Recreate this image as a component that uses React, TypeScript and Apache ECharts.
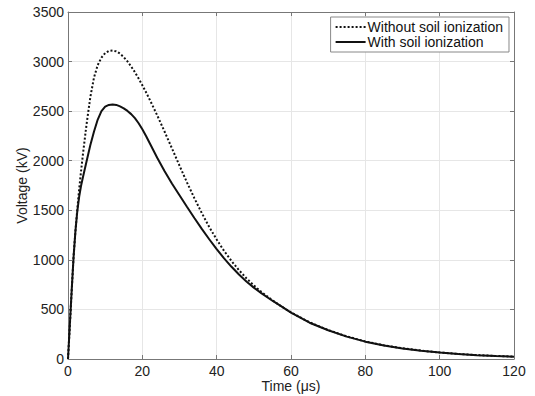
import React, { useEffect, useRef } from "react";
import * as echarts from "echarts";

const times = [0, 0.5, 1, 1.5, 2, 2.5, 3, 3.5, 4, 5, 6, 7, 8, 9, 10, 11, 12, 13, 14, 15, 16, 17, 18, 19, 20, 21, 22, 24, 26, 28, 30, 32, 34, 36, 38, 40, 42, 44, 46, 48, 50, 52, 55, 57, 60, 65, 70, 75, 80, 85, 90, 95, 100, 105, 110, 115, 120];

const withoutIonization = [0, 340, 690, 1030, 1290, 1510, 1710, 1890, 2060, 2370, 2640, 2840, 2965, 3040, 3085, 3108, 3112, 3103, 3080, 3045, 3002, 2950, 2893, 2830, 2762, 2690, 2615, 2458, 2292, 2122, 1950, 1782, 1622, 1472, 1332, 1205, 1090, 988, 896, 815, 742, 677, 592, 541, 470, 370, 292, 228, 177, 138, 108, 84, 66, 51, 40, 31, 24];

const withIonization = [0, 350, 700, 1030, 1290, 1490, 1635, 1745, 1830, 1995, 2155, 2295, 2415, 2500, 2545, 2563, 2568, 2563, 2548, 2528, 2502, 2470, 2430, 2378, 2318, 2250, 2176, 2030, 1893, 1768, 1652, 1535, 1422, 1313, 1208, 1108, 1015, 930, 852, 782, 720, 665, 588, 540, 468, 366, 290, 226, 175, 137, 107, 83, 65, 50, 39, 30, 23];

const xTicks = [0, 20, 40, 60, 80, 100, 120];
const yTicks = [0, 500, 1000, 1500, 2000, 2500, 3000, 3500];

const seriesNames = ["Without soil ionization", "With soil ionization"];

export default function App() {
  const ref = useRef<HTMLDivElement>(null);
  useEffect(() => {
    document.body.style.margin = "0";
    if (!ref.current) return;
    const chart = echarts.init(ref.current, null, { renderer: "svg" });
    const font = "Liberation Sans, Arial, Helvetica, sans-serif";
    const axisColor = "#777";
    const xCommon = {
      type: "value" as const,
      min: xTicks[0],
      max: xTicks[xTicks.length - 1],
      interval: 20,
      splitLine: { show: false },
      axisLine: { show: true, onZero: false, lineStyle: { color: axisColor, width: 1 } },
      axisTick: { show: true, inside: true, length: 4, lineStyle: { color: axisColor } },
    };
    const yCommon = {
      type: "value" as const,
      min: yTicks[0],
      max: yTicks[yTicks.length - 1],
      interval: 500,
      splitLine: { show: false },
      axisLine: { show: true, onZero: false, lineStyle: { color: axisColor, width: 1 } },
      axisTick: { show: true, inside: true, length: 4, lineStyle: { color: axisColor } },
    };
    chart.setOption({
      animation: false,
      backgroundColor: "#fff",
      textStyle: { fontFamily: font },
      grid: { left: 68, right: 21, top: 12, bottom: 37, containLabel: false, outerBoundsMode: "none" },
      legend: {
        orient: "vertical",
        right: 26,
        top: 17,
        padding: [3, 6, 3, 4],
        itemGap: 1,
        itemWidth: 30,
        itemHeight: 14,
        backgroundColor: "#fff",
        borderColor: "#888",
        borderWidth: 1,
        borderRadius: 0,
        itemStyle: { opacity: 0, borderWidth: 0 },
        lineStyle: { opacity: 1 },
        textStyle: { fontSize: 14, color: "#111", fontFamily: font, padding: [0, 0, 0, -3] },
        data: seriesNames,
      },
      xAxis: [
        {
          ...xCommon,
          position: "bottom",
          name: "Time (μs)",
          nameLocation: "middle",
          nameGap: 20,
          nameMoveOverlap: false,
          nameTextStyle: { fontSize: 14, color: "#222", fontFamily: font },
          axisLabel: { fontSize: 14, color: "#222", margin: 5, fontFamily: font },
          splitLine: { show: true, lineStyle: { color: "#e6e6e6", width: 1 } },
        },
        { ...xCommon, position: "top", axisLabel: { show: false } },
      ],
      yAxis: [
        {
          ...yCommon,
          position: "left",
          name: "Voltage (kV)",
          nameLocation: "middle",
          nameGap: 39,
          nameMoveOverlap: false,
          nameTextStyle: { fontSize: 14, color: "#222", fontFamily: font },
          axisLabel: { fontSize: 14, color: "#222", margin: 4, fontFamily: font, formatter: (v: number) => String(v) },
          splitLine: { show: true, lineStyle: { color: "#e6e6e6", width: 1 } },
        },
        { ...yCommon, position: "right", axisLabel: { show: false } },
      ],
      series: [
        {
          name: seriesNames[0],
          type: "line",
          symbol: "none",
          smooth: false,
          xAxisIndex: 0,
          yAxisIndex: 0,
          data: times.map((t, i) => [t, withoutIonization[i]]),
          lineStyle: { color: "#111", width: 2, type: [2, 2] },
          itemStyle: { color: "#111" },
        },
        {
          name: seriesNames[1],
          type: "line",
          symbol: "none",
          smooth: false,
          xAxisIndex: 0,
          yAxisIndex: 0,
          data: times.map((t, i) => [t, withIonization[i]]),
          lineStyle: { color: "#111", width: 2, type: "solid" },
          itemStyle: { color: "#111" },
        },
      ],
    });
    return () => chart.dispose();
  }, []);
  return <div ref={ref} style={{ width: 535, height: 396 }} />;
}
